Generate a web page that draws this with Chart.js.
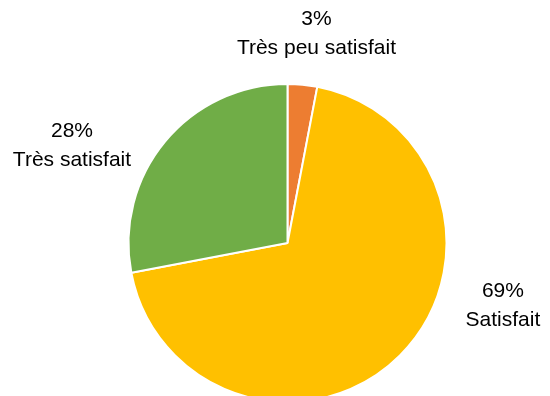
<!DOCTYPE html>
<html>
<head>
<meta charset="utf-8">
<script src="https://cdn.jsdelivr.net/npm/chart.js@4/dist/chart.umd.min.js"></script>
<style>
  html, body { margin: 0; padding: 0; background: #ffffff; }
  #wrap { width: 550px; height: 396px; }
</style>
</head>
<body>
<div id="wrap"><canvas id="satisfaction"></canvas></div>
<script>
const categories = ["Très peu satisfait", "Satisfait", "Très satisfait"];
const percentages = [3, 69, 28];
const sliceColors = ["#ED7D31", "#FFC000", "#70AD47"];

// where each "xx% / label" block sits relative to the outer edge of its slice
const labelOffsets = [
  { x: 14, y: -52 },
  { x: 103, y: -50 },
  { x: -93, y: 4 }
];

// Outside labels: percentage on the first line, category underneath
const sliceLabels = {
  id: "sliceLabels",
  afterDatasetsDraw(chart) {
    const ctx = chart.ctx;
    const meta = chart.getDatasetMeta(0);
    ctx.save();
    ctx.font = "21px 'Liberation Sans', Arial, sans-serif";
    ctx.fillStyle = "#000000";
    ctx.textAlign = "center";
    ctx.textBaseline = "middle";
    meta.data.forEach((arc, i) => {
      const mid = (arc.startAngle + arc.endAngle) / 2;
      const ex = arc.x + Math.cos(mid) * arc.outerRadius;
      const ey = arc.y + Math.sin(mid) * arc.outerRadius;
      const cx = ex + labelOffsets[i].x;
      const cy = ey + labelOffsets[i].y;
      ctx.fillText(percentages[i] + "%", cx, cy - 14);
      ctx.fillText(categories[i], cx, cy + 15);
    });
    ctx.restore();
  }
};

new Chart(document.getElementById("satisfaction"), {
  type: "pie",
  data: {
    labels: categories,
    datasets: [
      {
        data: percentages,
        backgroundColor: sliceColors,
        borderColor: "#FFFFFF",
        borderWidth: 2
      }
    ]
  },
  options: {
    responsive: true,
    maintainAspectRatio: false,
    animation: false,
    radius: 159,
    layout: {
      padding: { left: 25, right: 0, top: 90, bottom: 0 }
    },
    plugins: {
      legend: { display: false },
      tooltip: { enabled: false }
    }
  },
  plugins: [sliceLabels]
});
</script>
</body>
</html>
